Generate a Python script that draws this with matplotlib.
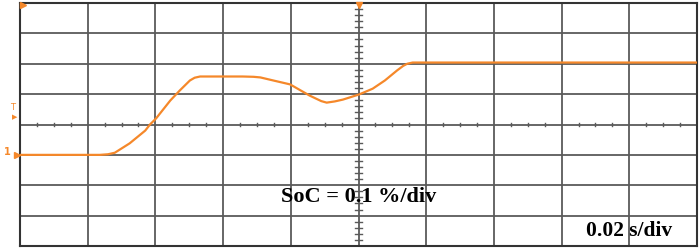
import matplotlib.pyplot as plt

# scope trace, x in time divisions, y in SoC divisions (centre = 0)
t_div = [0.0, 1.18, 1.30, 1.40, 1.62, 1.85, 1.92, 2.01, 2.22, 2.36, 2.51,
         2.58, 2.66, 3.29, 3.45, 3.55, 3.74, 3.99, 4.28, 4.45, 4.53, 4.65,
         4.77, 5.01, 5.21, 5.39, 5.57, 5.66, 5.72, 5.80, 10.0]
soc_div = [-1.0, -1.0, -0.98, -0.93, -0.62, -0.2, 0.0, 0.2, 0.79, 1.12, 1.45,
           1.54, 1.58, 1.58, 1.57, 1.55, 1.45, 1.32, 0.95, 0.77, 0.72, 0.76,
           0.82, 0.99, 1.18, 1.45, 1.78, 1.93, 2.0, 2.04, 2.04]

soc_label = "SoC = 0.1 %/div"
time_label = "0.02 s/div"

orange = '#f5882a'
grid_c = '#5a5a5a'

fig = plt.figure(figsize=(6.99, 2.48), dpi=100)
ax = fig.add_axes([20 / 699, 2 / 248, 677 / 699, 243 / 248])
ax.set_xlim(0, 10)
ax.set_ylim(-4, 4)
ax.set_xticks([])
ax.set_yticks([])
for s in ax.spines.values():
    s.set_color('#333333')
    s.set_linewidth(1.5)

# grid
for i in range(1, 10):
    ax.axvline(i, color=grid_c, lw=1.3, zorder=1)
for j in range(-3, 4):
    ax.axhline(j, color=grid_c, lw=1.3, zorder=1)

# minor ticks on centre lines
for i in range(10):
    for k in (0.25, 0.5, 0.75):
        ax.plot([i + k, i + k], [-0.06, 0.06], color=grid_c, lw=1.0, zorder=1)
for j in range(-4, 4):
    for k in (0.2, 0.4, 0.6, 0.8):
        ax.plot([4.95, 5.05], [j + k, j + k], color=grid_c, lw=1.0, zorder=1)

ax.plot(t_div, soc_div, color=orange, lw=1.6, zorder=3)

# scope markers
ax.plot([0.05], [3.92], marker='>', color=orange, ms=5, clip_on=False, zorder=4)
ax.plot([5.0], [3.95], marker='v', color=orange, ms=4, clip_on=False, zorder=4)
fig.text(13 / 699, 1 - 108 / 248, 'T', color=orange, fontsize=6,
         ha='center', va='center')
fig.text(15 / 699, 1 - 117 / 248, '\u25B6', color=orange, fontsize=5,
         ha='center', va='center')
fig.text(7 / 699, 1 - 152 / 248, '1', color=orange, fontsize=7,
         fontweight='bold', ha='center', va='center')
ax.plot([-0.04], [-1.0], marker='>', color=orange, ms=5, clip_on=False, zorder=4)

ax.text(5.0, -2.4, soc_label, fontsize=16, fontweight='bold',
        family='Liberation Serif', ha='center', va='center', zorder=5)
ax.text(9.0, -3.52, time_label, fontsize=15.5, fontweight='bold',
        family='Liberation Serif', ha='center', va='center', zorder=5)

fig.savefig('out.png', dpi=100)
